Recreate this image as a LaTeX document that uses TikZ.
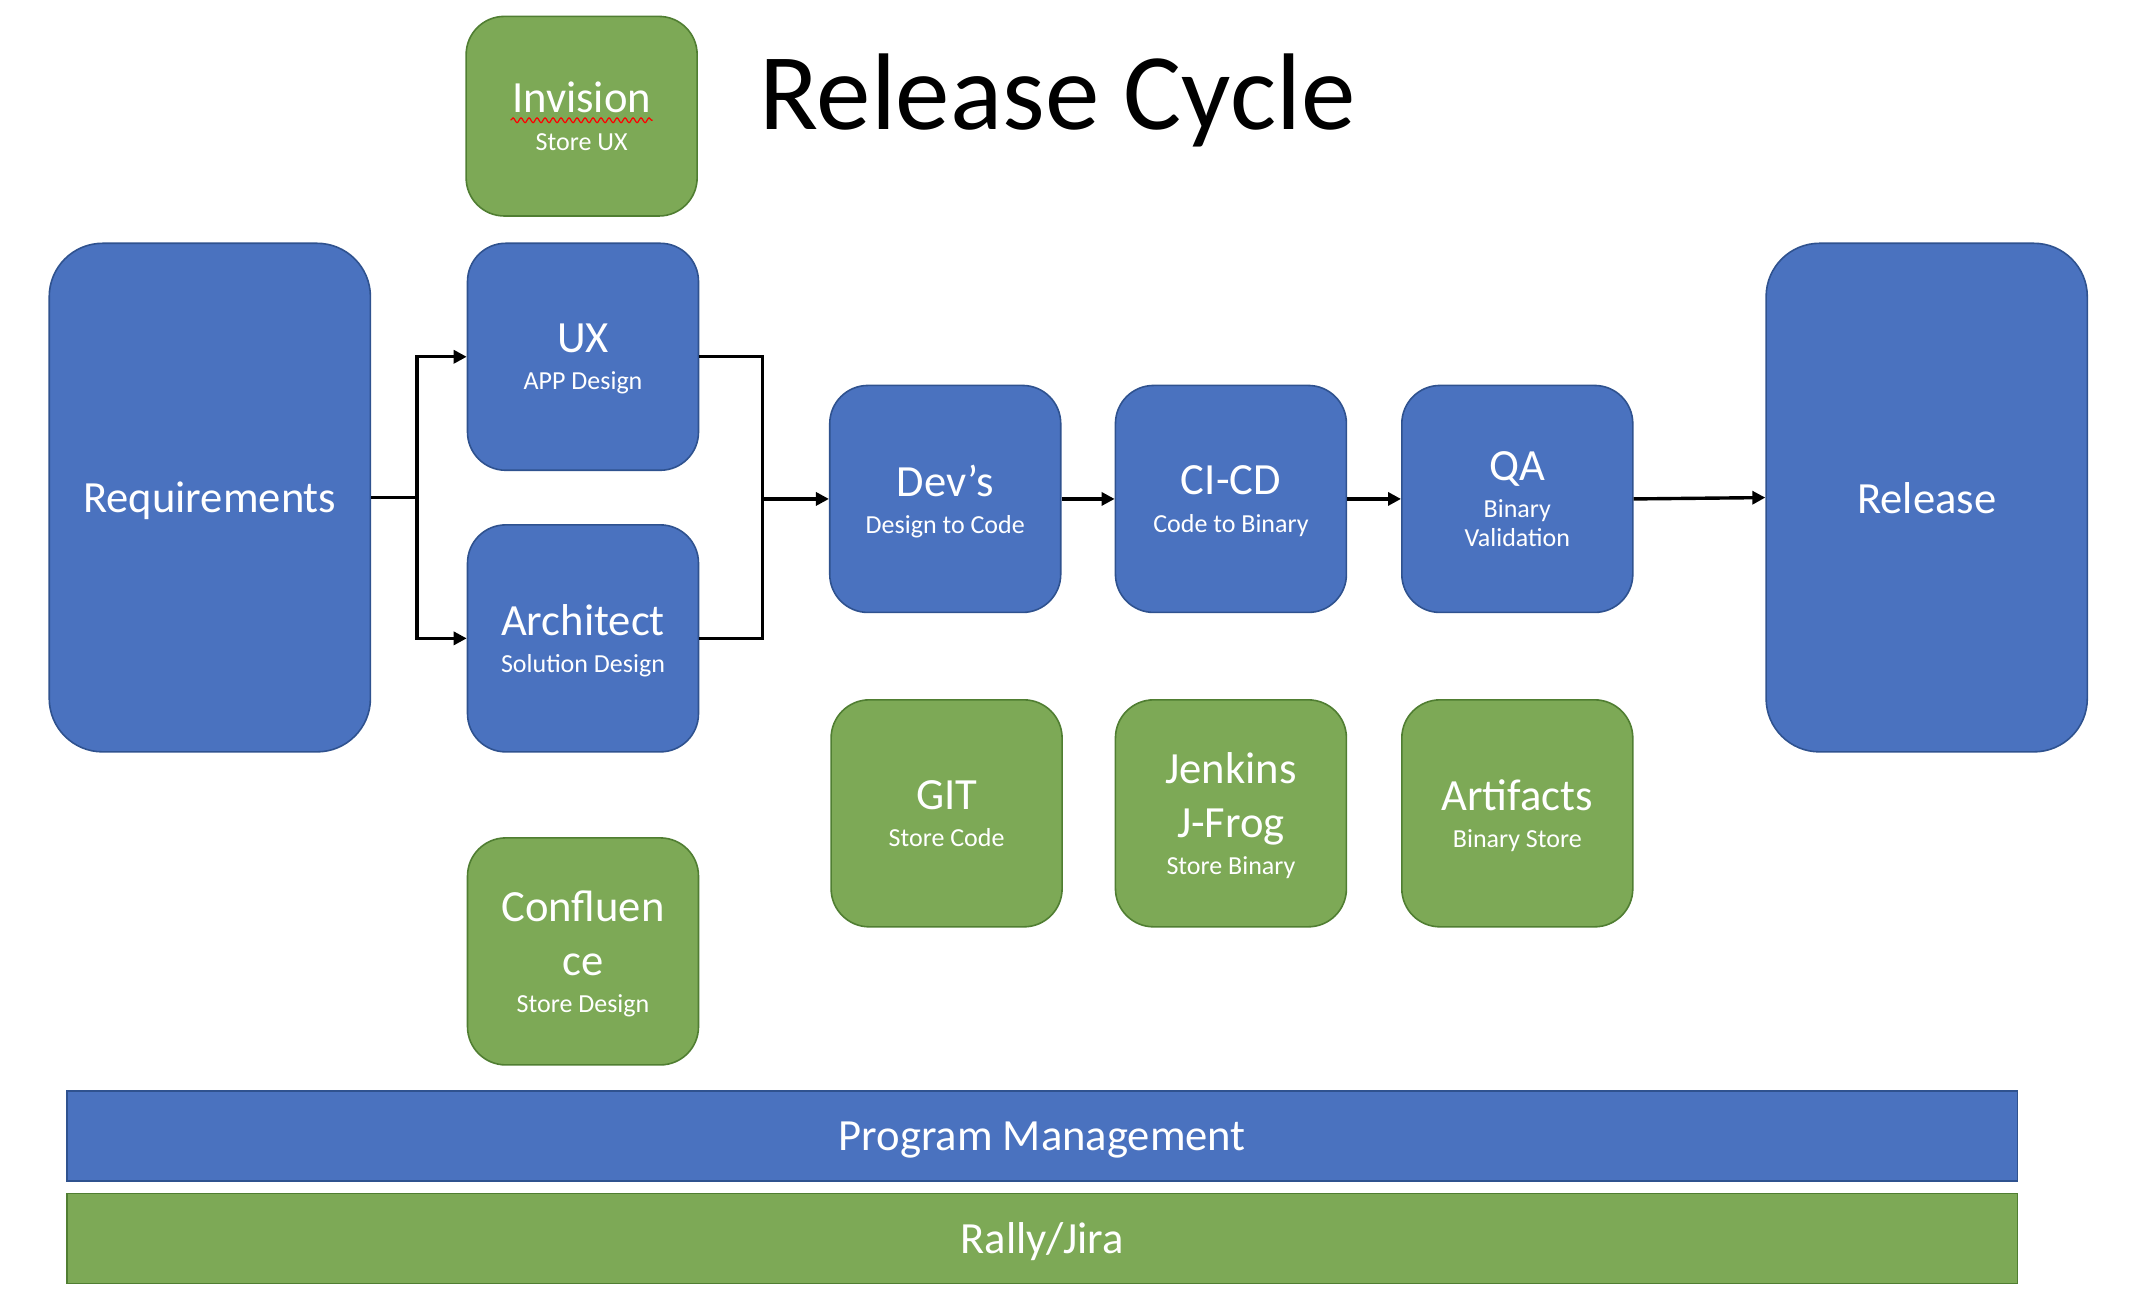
\documentclass[tikz,border=0pt]{standalone}
\usepackage{fontspec}
\setmainfont{Carlito}
\usepackage{xcolor}
\usetikzlibrary{arrows.meta,calc,decorations.pathmorphing}
\definecolor{boxblue}{HTML}{4A72BF}
\definecolor{edgeblue}{HTML}{2F528F}
\definecolor{boxgreen}{HTML}{7DA956}
\definecolor{edgegreen}{HTML}{507E32}

\begin{document}
\begin{tikzpicture}[y=-0.6835pt,x=0.6835pt,
	box/.style={draw, line width=0.8pt, text=white, align=center, inner sep=0pt, text depth=0pt,
		font=\fontsize{22.3}{27}\selectfont, rounded corners=19.1pt,
		minimum width=115.5pt, minimum height=113.5pt},
	bluebox/.style={box, fill=boxblue, draw=edgeblue},
	greenbox/.style={box, fill=boxgreen, draw=edgegreen},
	bigbox/.style={bluebox, rounded corners=26.7pt, minimum width=160.6pt, minimum height=254.3pt},
	bar/.style={box, rounded corners=0pt, minimum width=975.4pt, minimum height=45.1pt},
	conn/.style={line width=1.7pt, line join=miter},
	arr/.style={conn, -{Triangle[length=6.5pt,width=6.5pt]}}]
	\newcommand\Sub[1]{{\fontsize{13}{15}\selectfont #1}}
	\useasboundingbox (0,0) rectangle (1567,947);

	\node[anchor=base, font=\fontsize{54.5}{66}\selectfont] (title) at (773.5,95) {Release Cycle};

	\node[greenbox, minimum height=99.8pt] (inv) at (425.5,85) {Invision\\[-8.4pt]\Sub{Store UX}};
	\draw[red, line width=0.6pt, decorate, decoration={snake, amplitude=1.2, segment length=4pt}]
		($(inv.center)+(-52,3)$) -- ($(inv.center)+(52,3)$);

	\node[bigbox] (req) at (153.5,364) {Requirements};
	\node[bluebox] (ux) at (426.5,261) {UX\\[-8.4pt]\Sub{APP Design}};
	\node[bluebox] (arch) at (426.5,467) {Architect\\[-8.4pt]\Sub{Solution Design}};
	\node[bluebox] (dev) at (691.5,365) {Dev’s\\[-8.4pt]\Sub{Design to Code}};
	\node[bluebox] (cicd) at (900.5,365) {CI-CD\\[-8.4pt]\Sub{Code to Binary}};
	\node[bluebox] (qa) at (1110,365) {QA\\[-8.4pt]\Sub{Binary}\\[-12.5pt]\Sub{Validation}};
	\node[bigbox] (rel) at (1409.5,364) {Release};

	\node[greenbox] (git) at (692.5,595) {GIT\\[-8.4pt]\Sub{Store Code}};
	\node[greenbox] (jenk) at (900.5,595) {Jenkins\\J-Frog\\[-8.4pt]\Sub{Store Binary}};
	\node[greenbox] (art) at (1110,595) {Artifacts\\[-8.4pt]\Sub{Binary Store}};
	\node[greenbox] (conf) at (426.5,696) {Confluen\\ce\\[-8.4pt]\Sub{Store Design}};

	\node[bar, fill=boxblue, draw=edgeblue] (pm) at (762.5,831) {Program Management};
	\node[bar, fill=boxgreen, draw=edgegreen] (rally) at (762.5,906) {Rally/Jira};

	\coordinate (jl) at (305,364);
	\coordinate (jr) at (558,365);
	\draw[conn] (req.east) -- (jl);
	\draw[arr] (jl) |- (ux.west);
	\draw[arr] (jl) |- (arch.west);
	\draw[conn] (ux.east) -| (jr);
	\draw[conn] (arch.east) -| (jr);
	\draw[arr] (jr) -- (dev.west);
	\draw[arr] (dev) -- (cicd);
	\draw[arr] (cicd) -- (qa);
	\draw[arr] (qa.east) -- (rel.west);
\end{tikzpicture}
\end{document}
